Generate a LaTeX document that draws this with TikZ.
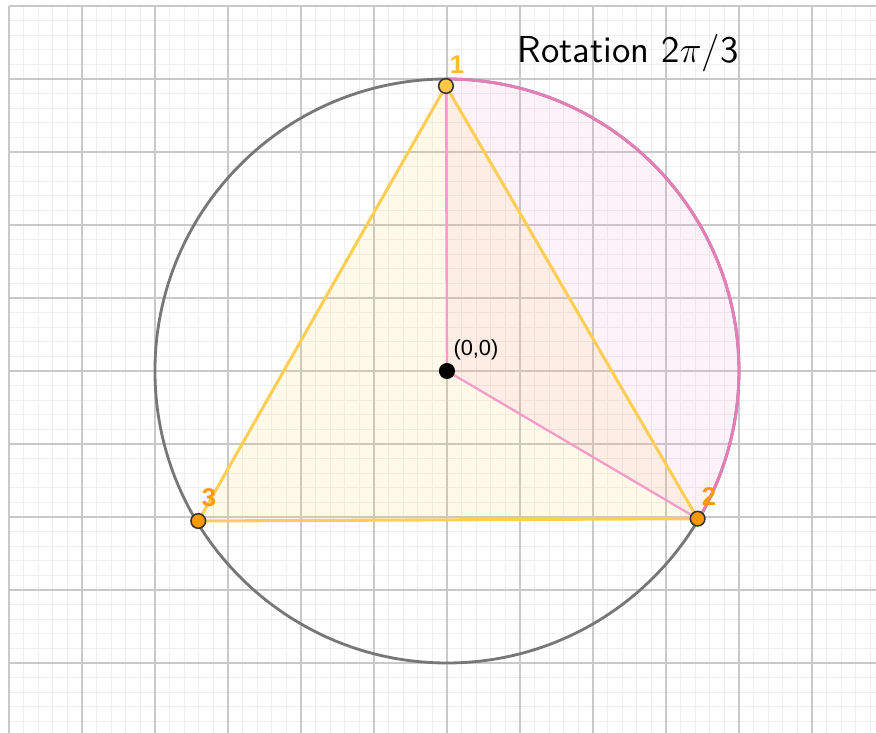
\documentclass[tikz,border=0pt]{standalone}
\usepackage{fontspec}
\newfontfamily\lab{Liberation Sans}
\definecolor{gmajor}{HTML}{C9C9C9}
\definecolor{gminor}{HTML}{EFEFEF}
\definecolor{circgray}{HTML}{777777}
\definecolor{triyel}{HTML}{FFCF55}
\definecolor{pinkarc}{HTML}{E67DB8}
\definecolor{pinkline}{HTML}{F59CCB}
\definecolor{pt1}{HTML}{FFC845}
\definecolor{pt2}{HTML}{FF9900}
\definecolor{lab1}{HTML}{FFBB33}
\tikzset{
  minorgrid/.style={gminor, line width=0.5pt},
  majorgrid/.style={gmajor, line width=0.7pt},
  ptdot/.style={circle, draw=black!80, line width=0.6pt, inner sep=0pt, minimum size=0.2cm},
  ptlabel/.style={font=\lab\bfseries\fontsize{10}{11}\selectfont, inner sep=0pt}
}
\begin{document}
\begin{tikzpicture}
\useasboundingbox (-6.123,-4.959) rectangle (5.877,5.082);
\fill[white] (-6.123,-4.959) rectangle (5.877,5.082);
% grid
\draw[minorgrid] (-6,-4.959) grid[step=0.2] (5.877,5);
\draw[majorgrid] (-6,-4.959) grid[step=1] (5.877,5);
% coordinates
\coordinate (O) at (0,0);
\coordinate (P1) at (-0.014,3.904);
\coordinate (P2) at (3.434,-2.023);
\coordinate (P3) at (-3.407,-2.055);
\coordinate (T) at (0,4);
% fills
\fill[pinkline, opacity=0.13] (O) -- (P1) -- (T) arc[start angle=90, end angle=-30.5, radius=4] -- (P2) -- cycle;
\fill[triyel, opacity=0.12] (P1) -- (P2) -- (P3) -- cycle;
% circle
\draw[circgray, line width=1.1pt] (O) circle[radius=4];
\draw[pinkarc, line width=1.1pt] (T) arc[start angle=90, end angle=-30.5, radius=4];
% pink radii
\draw[pinkline, line width=0.9pt] (O) -- (P1);
\draw[pinkline, line width=0.9pt] (O) -- (P2);
% triangle
\draw[triyel, line width=1.2pt, line join=round] (P1) -- (P2) -- (P3) -- cycle;
% points
\node[ptdot, fill=pt1] (N1) at (P1) {};
\node[ptdot, fill=pt2] (N2) at (P2) {};
\node[ptdot, fill=pt2] (N3) at (P3) {};
\node[circle, fill=black, inner sep=0pt, minimum size=0.22cm] (NO) at (O) {};
% labels
\node[ptlabel, text=lab1] (L1) at (0.137,4.19) {1};
\node[ptlabel, text=pt2] (L2) at (3.589,-1.726) {2};
\node[ptlabel, text=pt2] (L3) at (-3.26,-1.74) {3};
\node[font=\lab\fontsize{8.5}{10}\selectfont, inner sep=0pt] (LO) at (0.397,0.288) {(0,0)};
\node[font=\sffamily\fontsize{14.6}{17}\selectfont, inner sep=0pt] (title) at (2.479,4.356) {Rotation 2$\pi$/3};
\end{tikzpicture}
\end{document}
